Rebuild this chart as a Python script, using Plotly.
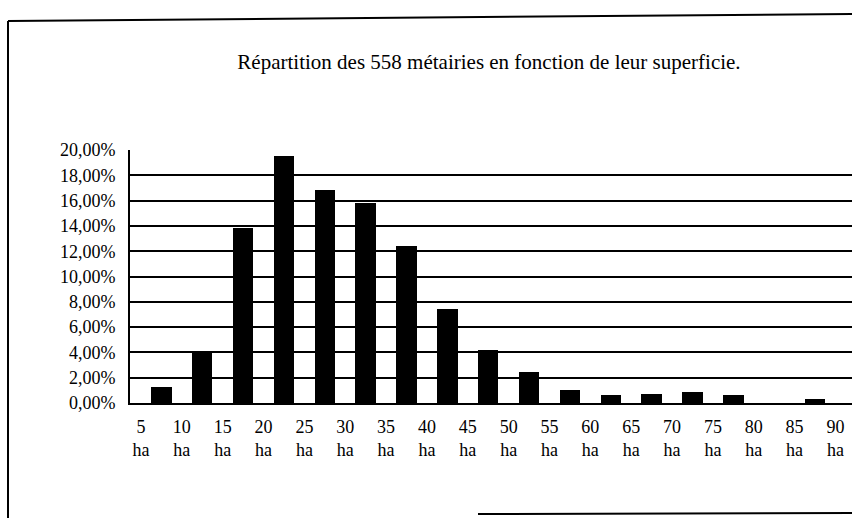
import plotly.graph_objects as go

# ---- data ----
sizes_ha = [5, 10, 15, 20, 25, 30, 35, 40, 45, 50, 55, 60, 65, 70, 75, 80, 85, 90]
tick_labels = [f"{s}<br>ha" for s in sizes_ha]
share_pct = [1.3, 4.0, 13.85, 19.5, 16.8, 15.8, 12.45, 7.4, 4.2, 2.45,
             1.0, 0.65, 0.68, 0.85, 0.6, 0.0, 0.35, None]
y_ticks = [0, 2, 4, 6, 8, 10, 12, 14, 16, 18, 20]
y_tick_labels = [f"{v},00%" for v in y_ticks]
title_text = "Répartition des 558 métairies en fonction de leur superficie."

# ---- layout geometry (window pixels) ----
W, H = 852, 518
L, R, T, B = 130, 0, 150, H - 403
PW, PH = W - L - R, H - T - B

def px(x):
    return (x - L) / PW

def py(y):
    return (H - B - y) / PH

FONT = "Liberation Serif, Times New Roman, serif"

bar_x = [s + 2.5 for s in sizes_ha]
PX_PER_HA = 8.17
FIRST_TICK_PX = 141

fig = go.Figure(go.Bar(
    x=bar_x, y=share_pct, width=2.5,
    marker=dict(color="black", line=dict(width=0)),
    showlegend=False,
))

line = dict(color="black", width=2)
shapes = [
    dict(type="line", xref="paper", yref="paper", x0=px(8), y0=py(21), x1=px(8), y1=py(518), line=line),
    dict(type="line", xref="paper", yref="paper", x0=px(8), y0=py(21), x1=px(852), y1=py(14), line=line),
    dict(type="line", xref="paper", yref="paper", x0=px(478), y0=py(514), x1=px(852), y1=py(513), line=line),
]

fig.update_layout(
    width=W, height=H,
    margin=dict(l=L, r=R, t=T, b=B),
    paper_bgcolor="white", plot_bgcolor="white",
    font=dict(family=FONT, color="black", size=18),
    title=dict(text=title_text, x=489 / W, y=1 - 62 / H,
               xanchor="center", yanchor="middle",
               font=dict(family=FONT, size=21, color="black")),
    shapes=shapes,
    bargap=0,
    xaxis=dict(range=[5 - (FIRST_TICK_PX - L) / PX_PER_HA, 5 + (W - FIRST_TICK_PX) / PX_PER_HA],
               tickvals=sizes_ha, ticktext=tick_labels, tickangle=0,
               showgrid=False, zeroline=False, showline=True, linecolor="black", linewidth=2,
               ticks="", ticklabelstandoff=6,
               tickfont=dict(family=FONT, size=18, color="black")),
    yaxis=dict(range=[0, 20], tickvals=y_ticks, ticktext=y_tick_labels,
               showgrid=True, gridcolor="black", gridwidth=1.6,
               zeroline=False, showline=True, linecolor="black", linewidth=2,
               ticks="", ticklabelstandoff=9,
               tickfont=dict(family=FONT, size=18, color="black")),
)

fig.write_html(
    "out.html",
    config={"displayModeBar": False},
    post_script="document.body.style.margin='0';document.body.style.overflow='hidden';",
)
